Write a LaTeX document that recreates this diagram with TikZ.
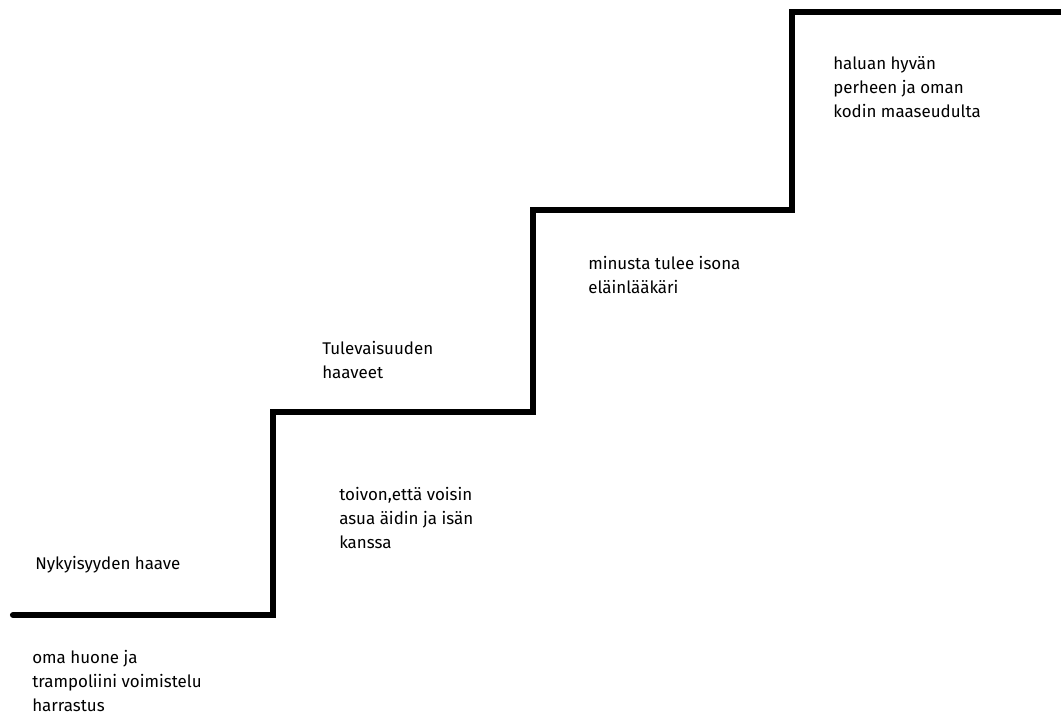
\documentclass[tikz,border=0pt]{standalone}
\usepackage{fontspec}
\setmainfont{Fira Sans}
\usetikzlibrary{positioning}

\begin{document}
\begin{tikzpicture}[x=0.75pt, y=-0.75pt,
  stair/.style={line width=4.6pt, line cap=round},
  wish/.style={anchor=base west, align=left, inner sep=0pt,
    font=\fontsize{12.7}{18}\selectfont}]

\useasboundingbox (0,0) rectangle (1061,715);

% portaat
\coordinate (s0) at (13,615);
\coordinate (s1) at (273,615);
\coordinate (s2) at (273,412);
\coordinate (s3) at (533,412);
\coordinate (s4) at (533,210);
\coordinate (s5) at (792,210);
\coordinate (s6) at (792,12);
\coordinate (s7) at (1061,12);

\draw[stair] (s0) -- (s1) -- (s2) -- (s3) -- (s4) -- (s5) -- (s6) -- (s7);

% tekstit (base = viimeisen rivin perusviiva)
\node[wish] (nyky) at (35,569) {Nykyisyyden haave};
\node[wish] (oma) at (32,711) {oma huone ja\\trampoliini voimistelu\\harrastus};
\node[wish] (tule) at (322,378) {Tulevaisuuden\\haaveet};
\node[wish] (toivo) at (339,548) {toivon,että voisin\\asua äidin ja isän\\kanssa};
\node[wish] (ela) at (588,293) {minusta tulee isona\\eläinlääkäri};
\node[wish] (halu) at (833,117) {haluan hyvän\\perheen ja oman\\kodin maaseudulta};

\end{tikzpicture}
\end{document}
